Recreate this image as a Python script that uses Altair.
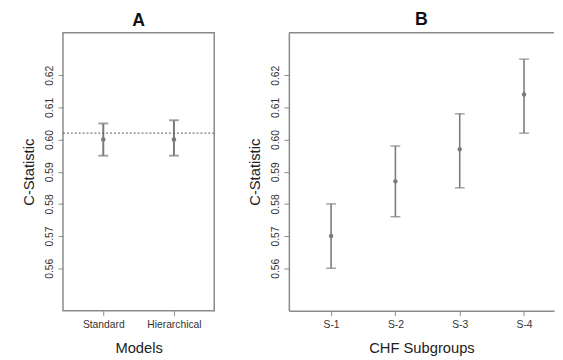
import altair as alt
import pandas as pd

# ---- data ----
models = ["Standard", "Hierarchical"]
models_est = [0.600, 0.600]
models_lo = [0.595, 0.595]
models_hi = [0.605, 0.606]
reference_value = [0.602]

subgroups = ["S-1", "S-2", "S-3", "S-4"]
subgroup_pos = [1, 2, 3, 4]
sub_est = [0.570, 0.587, 0.597, 0.614]
sub_lo = [0.560, 0.576, 0.585, 0.602]
sub_hi = [0.580, 0.598, 0.608, 0.625]

y_ticks = [0.56, 0.57, 0.58, 0.59, 0.60, 0.61, 0.62]
y_domain = [0.5468, 0.6332]

df_a = pd.DataFrame({"model": models, "est": models_est, "lo": models_lo, "hi": models_hi})
df_ref = pd.DataFrame({"ref": reference_value})
df_b = pd.DataFrame({"grp": subgroups, "pos": subgroup_pos, "est": sub_est, "lo": sub_lo, "hi": sub_hi})

GREY = "#7a7a7a"
FRAME = "#8a8a8a"
FONT = "Liberation Sans"

yscale = alt.Scale(domain=y_domain, nice=False, zero=False)


def y_axis(domain):
    return alt.Axis(
        values=y_ticks, format=".2f", title="C-Statistic", grid=False,
        labelAngle=-90, labelAlign="center", labelBaseline="bottom",
        labelPadding=4, tickSize=5, tickColor=FRAME, tickWidth=1,
        labelFontSize=10.5, labelColor="#333333", titleFontSize=15,
        titleFontWeight="normal", titleColor="#222222", titlePadding=8,
        domain=domain, domainColor=FRAME, domainWidth=1.5,
    )


# ---- panel A ----
xa = alt.X("model:N", sort=models,
           scale=alt.Scale(type="point", padding=0.57),
           axis=alt.Axis(title="Models", labelAngle=0, tickSize=5, tickColor=FRAME,
                         labelFontSize=10.5, labelColor="#333333", labelPadding=4,
                         titleFontSize=15, titleFontWeight="normal", titleColor="#222222",
                         titlePadding=11, domain=False))

base_a = alt.Chart(df_a)
rule_a = base_a.mark_rule(color=GREY, strokeWidth=2).encode(
    x=xa, y=alt.Y("lo:Q", scale=yscale, axis=y_axis(False)), y2="hi:Q")
cap_lo_a = base_a.mark_tick(color=GREY, orient="horizontal", size=10, thickness=2).encode(
    x=xa, y=alt.Y("lo:Q", scale=yscale))
cap_hi_a = base_a.mark_tick(color=GREY, orient="horizontal", size=10, thickness=2).encode(
    x=xa, y=alt.Y("hi:Q", scale=yscale))
pt_a = base_a.mark_circle(color=GREY, size=22, opacity=1).encode(
    x=xa, y=alt.Y("est:Q", scale=yscale))
ref_a = alt.Chart(df_ref).mark_rule(color="#555555", strokeDash=[2, 2], strokeWidth=1).encode(
    y=alt.Y("ref:Q", scale=yscale))

panel_a = alt.layer(rule_a, ref_a, cap_lo_a, cap_hi_a, pt_a).properties(
    width=154, height=283,
    title=alt.TitleParams("A", fontSize=18, fontWeight="bold", font=FONT, color="#111111", offset=3),
    view=alt.ViewBackground(stroke=FRAME, strokeWidth=1.5),
)

# ---- panel B ----
xb = alt.X("pos:Q", scale=alt.Scale(domain=[0.3435, 4.466], nice=False, zero=False),
           axis=alt.Axis(title="CHF Subgroups", values=subgroup_pos,
                         labelExpr="'S-' + datum.value", labelAngle=0, tickSize=5,
                         tickColor=FRAME, labelFontSize=10.5, labelColor="#333333",
                         labelPadding=4, titleFontSize=15, titleFontWeight="normal",
                         titleColor="#222222", titlePadding=11, grid=False,
                         domain=True, domainColor=FRAME, domainWidth=1.5))

base_b = alt.Chart(df_b)
rule_b = base_b.mark_rule(color=GREY, strokeWidth=1.6).encode(
    x=xb, y=alt.Y("lo:Q", scale=yscale, axis=y_axis(True)), y2="hi:Q")
cap_lo_b = base_b.mark_tick(color=GREY, orient="horizontal", size=10, thickness=1.5).encode(
    x=xb, y=alt.Y("lo:Q", scale=yscale))
cap_hi_b = base_b.mark_tick(color=GREY, orient="horizontal", size=10, thickness=1.5).encode(
    x=xb, y=alt.Y("hi:Q", scale=yscale))
pt_b = base_b.mark_circle(color=GREY, size=20, opacity=1).encode(
    x=xb, y=alt.Y("est:Q", scale=yscale))
top_b = alt.Chart(df_ref).mark_rule(color=FRAME, strokeWidth=1.5).encode(
    x=alt.value(0), x2=alt.value(270), y=alt.value(0))

panel_b = alt.layer(rule_b, cap_lo_b, cap_hi_b, pt_b, top_b).properties(
    width=270, height=283,
    title=alt.TitleParams("B", fontSize=18, fontWeight="bold", font=FONT, color="#111111", offset=3),
    view=alt.ViewBackground(strokeWidth=0),
)

chart = alt.hconcat(panel_a, panel_b, spacing=32).properties(
    padding={"left": 13, "top": 0, "right": 0, "bottom": 0}
).configure(font=FONT).configure_axis(labelFont=FONT, titleFont=FONT)

chart.save("out.html", embed_options={"renderer": "svg", "actions": False})
